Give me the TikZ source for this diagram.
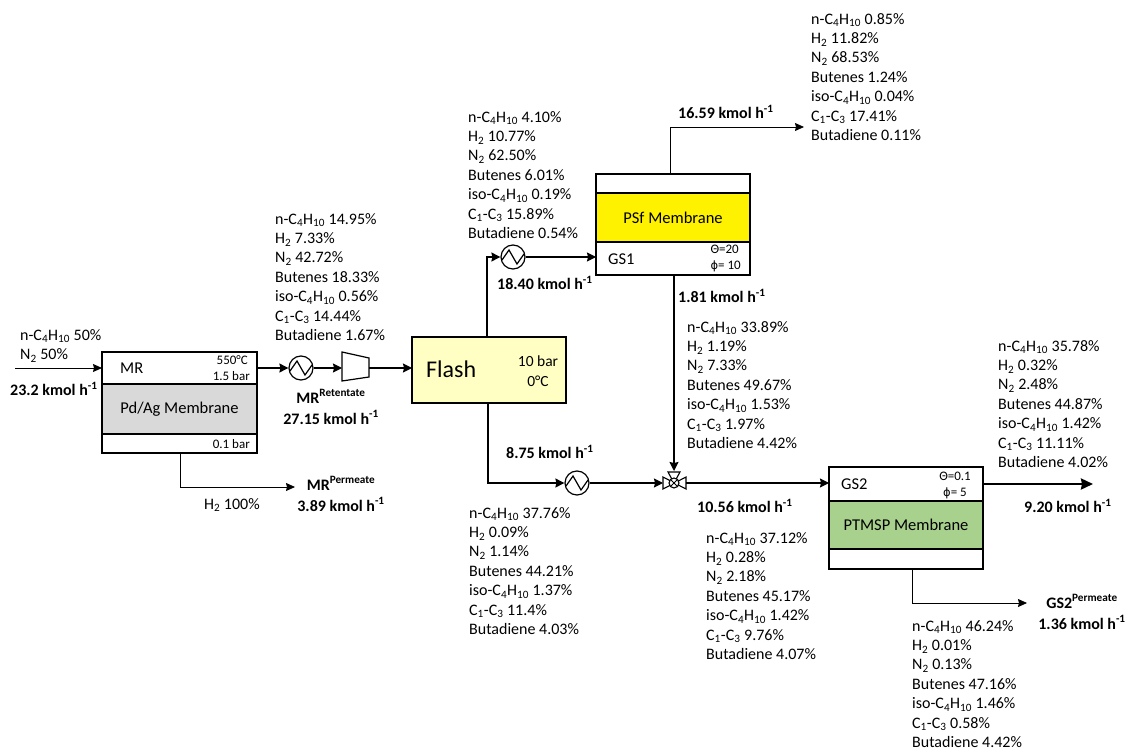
\documentclass[tikz,border=0pt]{standalone}
\usepackage{fontspec}
\setmainfont{Carlito}
\newfontfamily\phifont{DejaVu Sans}
\usetikzlibrary{arrows.meta}
\newcommand{\cfh}{n-C\textsubscript{4}H\textsubscript{10}}
\newcommand{\isoc}{iso-C\textsubscript{4}H\textsubscript{10}}
\newcommand{\hh}{H\textsubscript{2}}
\newcommand{\nn}{N\textsubscript{2}}
\newcommand{\cc}{C\textsubscript{1}-C\textsubscript{3}}
\newcommand{\kmol}{kmol h\textsuperscript{-1}}
\newcommand{\phisym}{{\phifont\fontsize{11.5}{15}\selectfont ϕ}}
\newcommand{\complist}[7]{\cfh{} #1\\\hh{} #2\\\nn{} #3\\Butenes #4\\\isoc{} #5\\\cc{} #6\\Butadiene #7}
\definecolor{flashfill}{HTML}{FFFFC4}
\definecolor{memgrey}{HTML}{D9D9D9}
\definecolor{memgreen}{HTML}{A9D18E}
\tikzset{
  x=1pt,y=-1pt,
  comp/.style={inner sep=0pt,anchor=north west,align=left,font=\fontsize{16}{19.4}\selectfont},
  flow/.style={inner sep=0pt,font=\bfseries\fontsize{16}{21}\selectfont,align=center},
  lab/.style={inner sep=0pt,font=\fontsize{16.5}{19}\selectfont},
  small/.style={inner sep=0pt,font=\fontsize{13}{15}\selectfont},
  box/.style={draw=black,line width=2.8pt,inner sep=0pt,outer sep=0pt,anchor=north west},
  line/.style={draw=black,line width=1.3pt,-{Stealth[length=9pt,width=9pt,inset=1pt]}},
  thin line/.style={draw=black,line width=0.8pt,-{Stealth[length=9pt,width=8pt,inset=1pt]}},
  heat/.style={circle,draw=black,line width=1.2pt,fill=white,minimum size=24pt,inner sep=0pt},
  zig/.style={line width=1.2pt},
}
\begin{document}
\begin{tikzpicture}
\useasboundingbox (0,0) rectangle (1125,749);
% MR
\node[box,minimum width=155pt,minimum height=32pt,fill=white] (mrtop) at (102,352) {};
\node[box,minimum width=155pt,minimum height=50pt,fill=memgrey] (mrmem) at (102,384) {};
\node[box,minimum width=155pt,minimum height=19pt,fill=white] (mrbot) at (102,434) {};
\node[lab,anchor=west] (mrname) at (120,368) {MR};
\node[lab] (mrmemt) at (mrmem.center) {Pd/Ag Membrane};
\node[small,anchor=east] (mrt) at (248,360) {550°C};
\node[small,anchor=east] (mrp) at (250,376) {1.5 bar};
\node[small,anchor=east] (mrpb) at (250,444) {0.1 bar};
% Flash
\node[box,minimum width=154pt,minimum height=66pt,fill=flashfill] (flash) at (412,337) {};
\node[inner sep=0pt,font=\fontsize{24}{26}\selectfont,anchor=west] (flasht) at (426,369) {Flash};
\node[inner sep=0pt,font=\fontsize{15.5}{20}\selectfont,align=center] (flashc) at (538,371) {10 bar\\0°C};
% GS1
\node[box,minimum width=154pt,minimum height=19pt,fill=white] (gs1top) at (596,174) {};
\node[box,minimum width=154pt,minimum height=49pt,fill=yellow] (gs1mem) at (596,193) {};
\node[box,minimum width=154pt,minimum height=33pt,fill=white] (gs1bot) at (596,242) {};
\node[lab] (gs1memt) at (gs1mem.center) {PSf Membrane};
\node[lab,anchor=west] (gs1n) at (608,259) {GS1};
\node[small,anchor=east] (gs1a) at (739,249) {Θ=20};
\node[small,anchor=east] (gs1b) at (741,266) {\phisym= 10};
% GS2
\node[box,minimum width=154pt,minimum height=34pt,fill=white] (gs2top) at (829,467) {};
\node[box,minimum width=154pt,minimum height=48pt,fill=memgreen] (gs2mem) at (829,501) {};
\node[box,minimum width=154pt,minimum height=20pt,fill=white] (gs2bot) at (829,549) {};
\node[lab] (gs2memt) at (gs2mem.center) {PTMSP Membrane};
\node[lab,anchor=west] (gs2n) at (841,484) {GS2};
\node[small,anchor=east] (gs2a) at (971,476) {Θ=0.1};
\node[small,anchor=east] (gs2b) at (967,493) {\phisym= 5};
% equipment
\node[heat] (h1) at (301,368) {};
\draw[zig] (290,371) -- (297,361) -- (305,375) -- (312,365);
\node[heat] (h2) at (513,257) {};
\draw[zig] (502,260) -- (509,250) -- (517,264) -- (524,254);
\node[heat] (h3) at (577,483) {};
\draw[zig] (566,486) -- (573,476) -- (581,490) -- (588,480);
\coordinate (compL) at (342,368);
\coordinate (compR) at (369,368);
\draw[line width=1.2pt,fill=white] (342,352) -- (369,358) -- (369,377) -- (342,381) -- cycle;
\coordinate (valveL) at (663,483);
\coordinate (valveR) at (686,483);
\coordinate (valveT) at (674,471);
\draw[line width=1.1pt,fill=white] (663,477) -- (686,489) -- (686,477) -- (663,489) -- cycle;
\draw[line width=1.1pt,fill=white] (668,472) -- (680,472) -- (674,483) -- cycle;
\draw[line width=1.1pt,fill=white] (674,483) circle (5pt);
\draw[line width=1pt] (671,480) -- (677,486) (677,480) -- (671,486);
% connectors
\coordinate (feed) at (15,368);
\draw[thin line,line width=1pt] (feed) -- (mrtop.west |- feed);
\draw[line] (mrtop.east) -- (h1.west);
\draw[line] (h1.east) -- (compL);
\draw[line,line width=1.6pt] (compR) -- (compR -| flash.west);
\coordinate (mrpb1) at (180,487);
\coordinate (mrpb2) at (295,487);
\draw[thin line] (mrbot.south -| mrpb1) -- (mrpb1) -- (mrpb2);
\coordinate (f1) at (487,257);
\draw[line] (flash.north -| f1) -- (f1) -- (h2.west);
\draw[line] (h2.east) -- (gs1bot.west |- h2.east);
\coordinate (f2) at (488,483);
\draw[line] (flash.south -| f2) -- (f2) -- (h3.west);
\draw[line] (h3.east) -- (valveL);
\draw[line] (valveR) -- (gs2top.west |- valveR);
\coordinate (g1) at (674,275);
\draw[line] (g1) -- (valveT);
\coordinate (g2) at (670,127);
\coordinate (g3) at (804,127);
\draw[thin line] (gs1top.north -| g2) -- (g2) -- (g3);
\coordinate (g4) at (1093,484);
\draw[draw=black,line width=2.4pt,-{Stealth[length=12pt,width=11pt,inset=1pt]}] (gs2top.east |- g4) -- (g4);
\coordinate (g5) at (912,603);
\coordinate (g6) at (1027,603);
\draw[thin line] (gs2bot.south -| g5) -- (g5) -- (g6);
% text
\node[comp] (tfeed) at (20,329) {\cfh{} 50\%\\\nn{} 50\%};
\node[flow,anchor=west] (ffeed) at (10,389) {23.2 \kmol};
\node[comp] (t1) at (275,213) {\complist{14.95\%}{7.33\%}{42.72\%}{18.33\%}{0.56\%}{14.44\%}{1.67\%}};
\node[flow] (f27) at (331,407) {MR\textsuperscript{Retentate}\\27.15 \kmol};
\node[comp] (th) at (204,498) {\hh{} 100\%};
\node[flow] (f38) at (341,494) {MR\textsuperscript{Permeate}\\3.89 \kmol};
\node[comp] (t2) at (468,111) {\complist{4.10\%}{10.77\%}{62.50\%}{6.01\%}{0.19\%}{15.89\%}{0.54\%}};
\node[flow,anchor=west] (f18) at (497,283) {18.40 \kmol};
\node[flow,anchor=west] (f16) at (678,112) {16.59 \kmol};
\node[comp] (t3) at (811,13) {\complist{0.85\%}{11.82\%}{68.53\%}{1.24\%}{0.04\%}{17.41\%}{0.11\%}};
\node[flow,anchor=west] (f181) at (678,296) {1.81 \kmol};
\node[comp] (t4) at (687,321) {\complist{33.89\%}{1.19\%}{7.33\%}{49.67\%}{1.53\%}{1.97\%}{4.42\%}};
\node[flow,anchor=west] (f875) at (506,452) {8.75 \kmol};
\node[comp] (t5) at (469,507) {\complist{37.76\%}{0.09\%}{1.14\%}{44.21\%}{1.37\%}{11.4\%}{4.03\%}};
\node[flow,anchor=west] (f105) at (697,506) {10.56 \kmol};
\node[comp] (t6) at (706,532) {\complist{37.12\%}{0.28\%}{2.18\%}{45.17\%}{1.42\%}{9.76\%}{4.07\%}};
\node[comp] (t7) at (998,340) {\complist{35.78\%}{0.32\%}{2.48\%}{44.87\%}{1.42\%}{11.11\%}{4.02\%}};
\node[flow,anchor=west] (f92) at (1024,506) {9.20 \kmol};
\node[flow] (f136) at (1082,612) {GS2\textsuperscript{Permeate}\\1.36 \kmol};
\node[comp] (t8) at (912,620) {\complist{46.24\%}{0.01\%}{0.13\%}{47.16\%}{1.46\%}{0.58\%}{4.42\%}};
\end{tikzpicture}
\end{document}
